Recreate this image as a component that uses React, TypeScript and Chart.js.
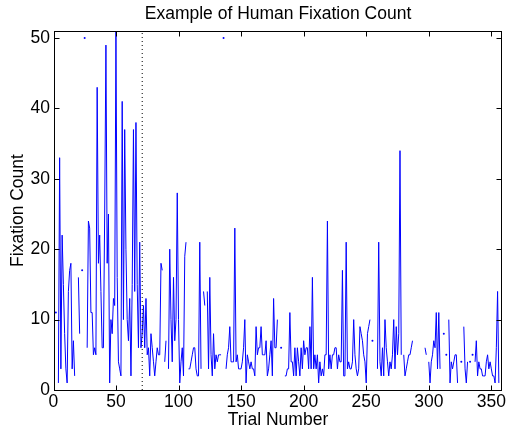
import React, { useEffect, useRef } from "react";
import { Chart, registerables } from "chart.js";

Chart.register(...registerables);

const TITLE = "Example of Human Fixation Count";
const X_LABEL = "Trial Number";
const Y_LABEL = "Fixation Count";
const X_TICKS = [0, 50, 100, 150, 200, 250, 300, 350];
const Y_TICKS = [0, 10, 20, 30, 40, 50];
const X_MIN = 0.5;
const X_MAX = 358.5;
const Y_MIN = 0;
const Y_MAX = 51;
const DIVIDER_TRIAL = 71;

const N = null;
// fixation counts per trial (null = no data)
const trials001to050 = [
  N, 11, N, 1, 33, 3, 22, 15, 8, 3,
  1, 14, 17, 18, 3, 7, 2, N, N, 16,
  8, N, 17, N, 50, N, 6, 24, 23, 11,
  11, 5, 6, 5, 43, 18, 22, 14, 6, 6,
  25, 49, 18, 25, 1, 10, 8, 13, 12, 51,
];
const trials051to100 = [
  16, 4, 3, 2, 41, 10, 37, 20, 10, 7,
  13, 2, 15, 37, 14, 38, 15, 6, 21, 6,
  8, 12, 6, 13, 5, 6, 2, 8, 6, 4,
  2, 4, 6, 5, 5, 18, 17, N, 4, 7,
  N, 3, 20, 10, 4, 16, 7, 10, 28, 10,
];
const trials101to150 = [
  1, 4, 6, 2, 19, 21, N, 3, 3, 4,
  5, 6, 6, 3, 2, 2, 21, 3, N, 14,
  12, N, 14, 3, 16, 5, 2, 8, 3, 5,
  4, 5, 5, 5, N, 50, N, 3, 5, 6,
  9, 4, 4, 4, 23, 4, 5, 3, 3, 3,
];
const trials151to200 = [
  4, 6, 10, 1, 5, 4, 3, 4, 3, 3,
  2, 9, 5, 6, 6, 9, 5, 5, 5, 7,
  2, 3, 5, 7, 2, 13, 6, 6, 10, N,
  N, 6, N, N, 2, 2, 3, 3, 11, 4,
  4, 2, 6, 2, 6, 4, 2, 6, 3, 7,
];
const trials201to250 = [
  5, 6, 6, 3, 9, 3, 16, 3, 5, 3,
  5, 1, 4, 2, 3, 2, 5, 5, 24, 3,
  5, 3, 5, 5, 6, 6, 3, 5, 4, 4,
  17, 2, 2, 21, 3, 4, 3, 3, 4, 10,
  5, 3, 2, 3, 9, 8, 7, 5, 4, 1,
];
const trials251to300 = [
  8, 9, 10, N, 7, N, N, N, 3, 21,
  4, 2, 6, 2, 10, 6, 4, 2, 4, 3,
  5, 10, 3, 9, 5, 8, 34, 5, N, 5,
  2, 3, 4, 5, 5, 6, 7, N, N, N,
  N, N, N, N, N, N, 6, 5, N, 4,
];
const trials301to358 = [
  1, 4, 5, 7, 6, 11, 3, 11, 3, N,
  N, 8, N, 5, N, 10, 1, 4, 3, 4,
  5, 5, 1, N, N, 4, N, 9, 3, 1,
  4, N, 4, N, 5, N, 4, 7, 2, 4,
  3, 3, 2, 2, 2, 4, 5, 3, 4, 3,
  2, 2, 1, 6, 14, 1, N, N,
];

const fixations: (number | null)[] = [
  null,
  ...trials001to050,
  ...trials051to100,
  ...trials101to150,
  ...trials151to200,
  ...trials201to250,
  ...trials251to300,
  ...trials301to358,
];

const FONT_FAMILY = '"Liberation Sans", Arial, Helvetica, sans-serif';
const FONT_SIZE = 17.5;

const framePlugin = {
  id: "matlabFrame",
  afterDatasetsDraw(chart: any) {
    const { ctx, chartArea, scales } = chart;
    const x0 = Math.floor(chartArea.left) + 0.5;
    const x1 = Math.floor(chartArea.right) + 0.5;
    const y0 = Math.floor(chartArea.top) + 0.5;
    const y1 = Math.floor(chartArea.bottom) + 0.5;
    const len = 5;
    ctx.save();
    ctx.strokeStyle = "#000";
    ctx.lineWidth = 1;
    ctx.beginPath();
    X_TICKS.forEach((v) => {
      if (v < X_MIN || v > X_MAX) return;
      const px = Math.round(scales.x.getPixelForValue(v)) + 0.5;
      ctx.moveTo(px, y1);
      ctx.lineTo(px, y1 - len);
      ctx.moveTo(px, y0);
      ctx.lineTo(px, y0 + len);
    });
    Y_TICKS.forEach((v) => {
      if (v < Y_MIN || v > Y_MAX) return;
      const py = Math.round(scales.y.getPixelForValue(v)) + 0.5;
      ctx.moveTo(x0, py);
      ctx.lineTo(x0 + len, py);
      ctx.moveTo(x1, py);
      ctx.lineTo(x1 - len, py);
    });
    ctx.stroke();
    ctx.strokeRect(x0, y0, x1 - x0, y1 - y0);
    ctx.restore();
  },
  afterDraw(chart: any) {
    const { ctx, chartArea } = chart;
    ctx.save();
    ctx.fillStyle = "#000";
    ctx.font = `${FONT_SIZE}px ${FONT_FAMILY}`;
    ctx.textAlign = "center";
    ctx.textBaseline = "middle";
    ctx.fillText(TITLE, (chartArea.left + chartArea.right) / 2, 13.9);
    ctx.restore();
  },
};

export default function App() {
  const canvasRef = useRef<HTMLCanvasElement | null>(null);

  useEffect(() => {
    document.body.style.margin = "0";
    const canvas = canvasRef.current;
    if (!canvas) return;

    const points = fixations.map((v, i) => ({ x: i, y: v }));
    const isolatedRadius = (c: any) => {
      const i = c.dataIndex;
      const v = fixations[i];
      if (v == null) return 0;
      const prev = i > 0 ? fixations[i - 1] : null;
      const next = i < fixations.length - 1 ? fixations[i + 1] : null;
      return prev == null && next == null ? 1 : 0;
    };

    const font = { family: FONT_FAMILY, size: FONT_SIZE };

    const chart = new Chart(canvas, {
      type: "line",
      data: {
        datasets: [
          {
            label: "Fixation count",
            data: points as any,
            borderColor: "#0000ff",
            backgroundColor: "#0000ff",
            borderWidth: 1,
            pointRadius: isolatedRadius,
            pointBorderWidth: 0,
            pointHoverRadius: 0,
            tension: 0,
            spanGaps: false,
            fill: false,
            order: 2,
          },
          {
            label: "Divider",
            data: [
              { x: DIVIDER_TRIAL, y: Y_MIN },
              { x: DIVIDER_TRIAL, y: Y_MAX },
            ],
            borderColor: "#000",
            borderWidth: 1,
            borderDash: [1, 3],
            pointRadius: 0,
            fill: false,
            order: 1,
          },
        ],
      },
      options: {
        animation: false,
        responsive: false,
        devicePixelRatio: 1,
        parsing: true,
        layout: { padding: { top: 31, right: 2.7, bottom: 0, left: 0 } },
        plugins: {
          legend: { display: false },
          tooltip: { enabled: false },
          title: { display: false },
        },
        events: [],
        scales: {
          x: {
            type: "linear",
            min: X_MIN,
            max: X_MAX,
            afterBuildTicks: (s: any) => {
              s.ticks = X_TICKS.map((v) => ({ value: v }));
            },
            afterFit: (s: any) => {
              s.height = 41;
            },
            grid: { display: false, drawTicks: false, tickLength: 0 },
            border: { display: false },
            ticks: {
              font,
              color: "#000",
              padding: 2,
              maxRotation: 0,
              autoSkip: false,
              callback: (v: any) => String(v),
            },
            title: {
              display: true,
              text: X_LABEL,
              font,
              color: "#000",
              padding: { top: 0, bottom: 0.5 },
            },
          },
          y: {
            type: "linear",
            min: Y_MIN,
            max: Y_MAX,
            afterBuildTicks: (s: any) => {
              s.ticks = Y_TICKS.map((v) => ({ value: v }));
            },
            afterFit: (s: any) => {
              s.width = 54;
            },
            grid: { display: false, drawTicks: false, tickLength: 0 },
            border: { display: false },
            ticks: {
              font,
              color: "#000",
              padding: 4,
              autoSkip: false,
              callback: (v: any) => String(v),
            },
            title: {
              display: true,
              text: Y_LABEL,
              font,
              color: "#000",
              padding: { top: 7.5, bottom: 0 },
            },
          },
        },
      },
      plugins: [framePlugin],
    });

    return () => {
      chart.destroy();
    };
  }, []);

  return (
    <canvas
      ref={canvasRef}
      width={508}
      height={431}
      style={{ display: "block", width: 508, height: 431 }}
    />
  );
}
